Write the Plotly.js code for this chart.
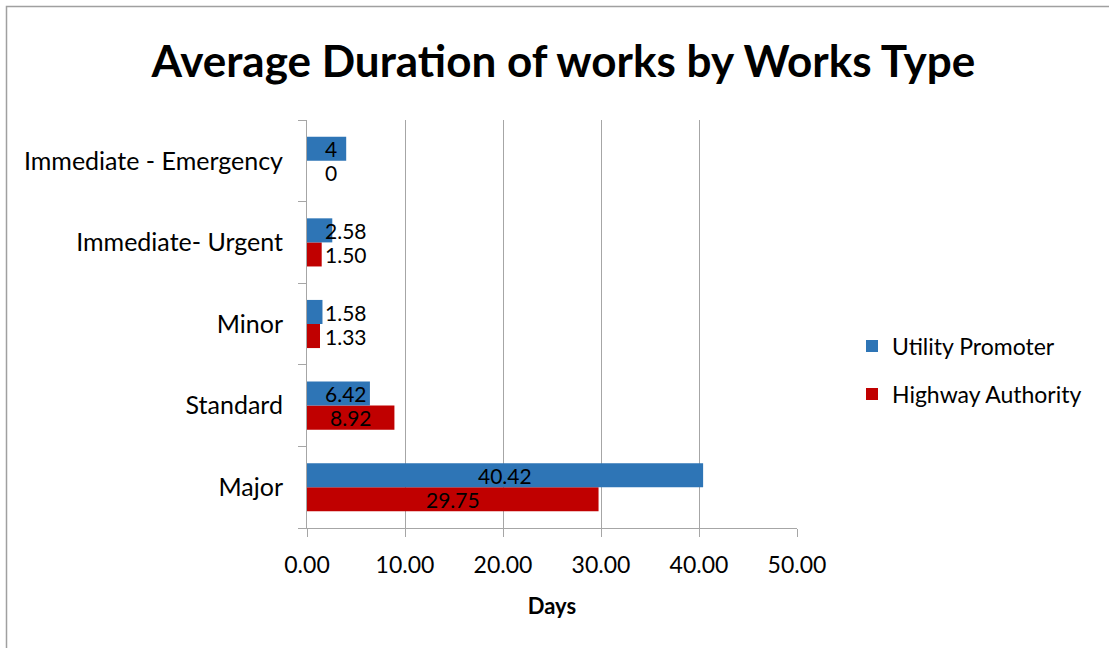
<!DOCTYPE html>
<html>
<head>
<meta charset="utf-8">
<script src="https://cdn.plot.ly/plotly-3.0.1.min.js"></script>
<style>html,body{margin:0;padding:0;background:#fff;}#chart{width:1109px;height:648px;}</style>
</head>
<body>
<div id="chart"></div>
<script>
// Data (listed top to bottom as in the chart)
const categories = ["Immediate - Emergency", "Immediate- Urgent", "Minor", "Standard", "Major"];
const utilityPromoter = [4, 2.58, 1.58, 6.42, 40.42];
const highwayAuthority = [0, 1.50, 1.33, 8.92, 29.75];
const utilityLabels = ["4", "2.58", "1.58", "6.42", "40.42"];
const highwayLabels = ["0", "1.50", "1.33", "8.92", "29.75"];
const xTickVals = [0, 10, 20, 30, 40, 50];
const xTickText = ["0.00", "10.00", "20.00", "30.00", "40.00", "50.00"];

const FONT = "Lato, 'Open Sans', sans-serif";
const BLUE = "#2e75b6";
const RED = "#c00000";

// layout geometry
const L = 307, R = 312, T = 120, B = 120, W = 1109, H = 648;
const plotW = W - L - R;
const xMax = 50;
const pxPerUnit = plotW / xMax;
const labelSize = 21;

// measure text to place data labels like the spreadsheet does (centered, but not closer than inset to axis)
const cv = document.createElement('canvas').getContext('2d');
cv.font = labelSize + "px Lato";
const inset = 16;
function labelAnn(v, txt, cat, shift) {
  const w = cv.measureText(txt).width;
  const centerPx = v / 2 * pxPerUnit;
  let x, anchor;
  if (centerPx - w / 2 < inset) { x = inset / pxPerUnit; anchor = 'left'; }
  else { x = v / 2; anchor = 'center'; }
  return {x: x, y: cat, xref: 'x', yref: 'y', text: txt, showarrow: false,
    xanchor: anchor, yanchor: 'middle', yshift: shift, xshift: 0,
    font: {family: FONT, size: labelSize, color: '#000'}};
}

const annotations = [];
categories.forEach((c, i) => {
  annotations.push(labelAnn(utilityPromoter[i], utilityLabels[i], c, 12));
  annotations.push(labelAnn(highwayAuthority[i], highwayLabels[i], c, -12));
});

const traces = [
  {type: 'bar', orientation: 'h', name: 'Highway Authority', y: categories, x: highwayAuthority,
   marker: {color: RED}, legendgroup: 'h', legendrank: 2, hoverinfo: 'none'},
  {type: 'bar', orientation: 'h', name: 'Utility Promoter', y: categories, x: utilityPromoter,
   marker: {color: BLUE}, legendgroup: 'u', legendrank: 1, hoverinfo: 'none'}
];

const layout = {
  width: W, height: H,
  margin: {l: L, r: R, t: T, b: B, pad: 0, autoexpand: false},
  paper_bgcolor: '#fff', plot_bgcolor: '#fff',
  font: {family: FONT, size: 20, color: '#000'},
  barmode: 'group', bargap: 0.41, bargroupgap: 0,
  title: {text: '<b>Average Duration of works by Works Type</b>', font: {family: FONT, size: 44, color: '#000'},
    xref: 'container', yref: 'container', x: 0.508, y: 1 - 62 / H, xanchor: 'center', yanchor: 'middle'},
  xaxis: {range: [0, xMax], tickvals: xTickVals, ticktext: xTickText, showgrid: true, gridcolor: '#a6a6a6', gridwidth: 1,
    zeroline: false, showline: true, linecolor: '#a6a6a6', linewidth: 1, ticks: 'outside', ticklen: 8, tickcolor: '#a6a6a6',
    tickfont: {family: FONT, size: 23, color: '#000'}, fixedrange: true, ticklabelstandoff: 8, automargin: false,
    title: {text: '<b>Days</b>', font: {family: FONT, size: 22, color: '#000'}, standoff: 22}},
  yaxis: {type: 'category', categoryorder: 'array', categoryarray: categories.slice().reverse(),
    showgrid: false, zeroline: false, showline: true, linecolor: '#a6a6a6', linewidth: 1,
    ticks: 'outside', ticklen: 8, tickcolor: '#a6a6a6', tickson: 'boundaries', automargin: false,
    tickfont: {family: FONT, size: 25, color: '#000'}, fixedrange: true, ticklabelstandoff: 18},
  showlegend: true,
  legend: {x: (852 - L) / plotW, xanchor: 'left', y: 0.387, yanchor: 'middle', traceorder: 'grouped',
    tracegroupgap: 15, font: {family: FONT, size: 23, color: '#000'}, bgcolor: 'rgba(0,0,0,0)', itemwidth: 30},
  annotations: annotations,
  shapes: [{type: 'rect', xref: 'paper', yref: 'paper', x0: (6.5 - L) / plotW, x1: (1250 - L) / plotW,
    y0: (H - B - 700) / (H - T - B), y1: (H - B - 6.5) / (H - T - B), line: {color: '#a0a0a0', width: 1.5}, layer: 'below'}]
};

Plotly.newPlot('chart', traces, layout, {displayModeBar: false, staticPlot: true});
</script>
</body>
</html>
